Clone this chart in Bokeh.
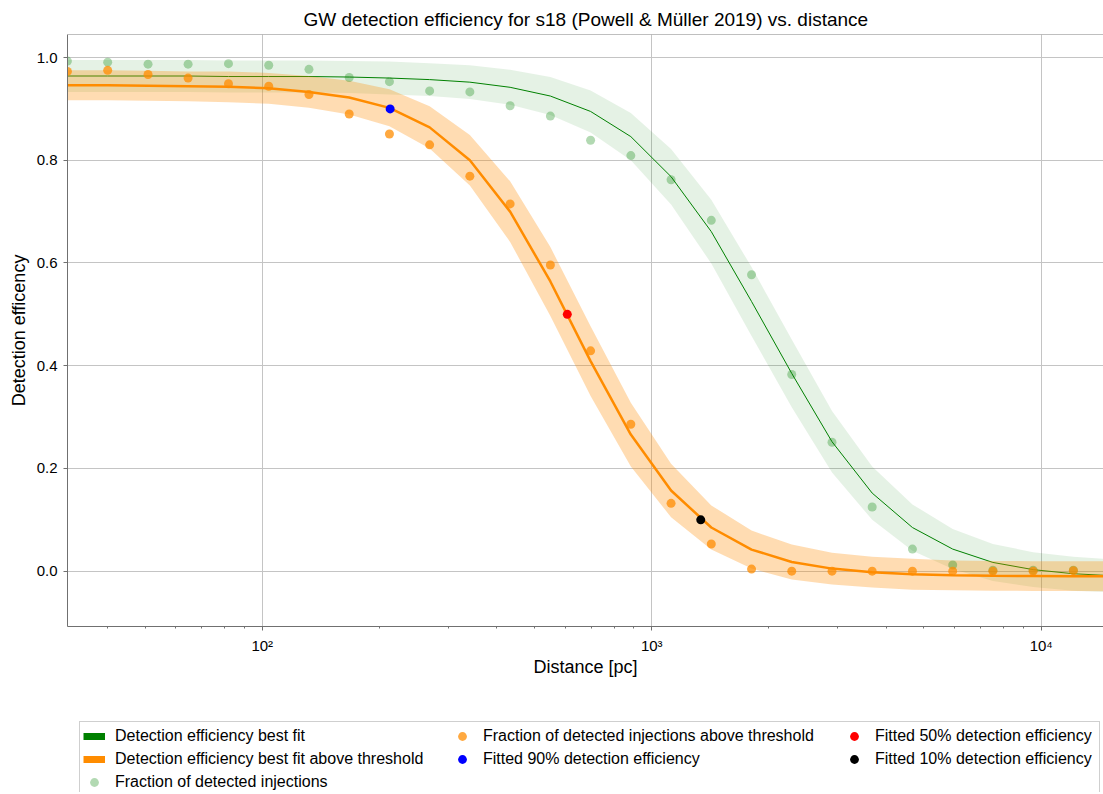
from bokeh.plotting import figure
from bokeh.layouts import column
from bokeh.models import (FixedTicker, Legend, LegendItem, Span, NumeralTickFormatter,
                          ColumnDataSource)
from bokeh.embed import file_html
from bokeh.resources import INLINE

# ---------------- data ----------------
distance = [31.6, 40.1, 50.9, 64.5, 81.9, 103.9, 131.8, 167.2, 212.1, 269.0,
            341.2, 432.9, 549.2, 696.6, 883.7, 1121, 1422, 1804, 2288, 2903,
            3681, 4670, 5925, 7515, 9533, 12093, 15340]

fit_all = [0.964, 0.964, 0.964, 0.964, 0.963, 0.963, 0.963, 0.962, 0.960, 0.957,
           0.952, 0.942, 0.925, 0.895, 0.846, 0.768, 0.661, 0.525, 0.385, 0.252,
           0.152, 0.085, 0.043, 0.017, 0.003, -0.005, -0.009]
err_all = [0.031, 0.031, 0.031, 0.031, 0.031, 0.031, 0.031, 0.031, 0.032, 0.032,
           0.033, 0.034, 0.037, 0.041, 0.046, 0.054, 0.062, 0.067, 0.066, 0.060,
           0.052, 0.045, 0.039, 0.036, 0.034, 0.033, 0.032]

fit_thr = [0.946, 0.946, 0.945, 0.944, 0.943, 0.940, 0.933, 0.922, 0.902, 0.864,
           0.800, 0.700, 0.564, 0.409, 0.266, 0.157, 0.085, 0.042, 0.018, 0.005,
           -0.002, -0.006, -0.008, -0.009, -0.0095, -0.0098, -0.0099]
err_thr = [0.029, 0.029, 0.029, 0.029, 0.030, 0.030, 0.031, 0.033, 0.036, 0.041,
           0.049, 0.059, 0.067, 0.068, 0.062, 0.052, 0.043, 0.037, 0.034, 0.031,
           0.030, 0.030, 0.029, 0.029, 0.029, 0.029, 0.029]

frac_all = [0.993, 0.991, 0.987, 0.987, 0.988, 0.985, 0.977, 0.961, 0.953, 0.935,
            0.933, 0.906, 0.886, 0.839, 0.809, 0.762, 0.683, 0.577, 0.383, 0.251,
            0.125, 0.043, 0.012, 0.002, 0.002, 0.002]
frac_thr = [0.973, 0.975, 0.967, 0.960, 0.949, 0.944, 0.928, 0.890, 0.851, 0.830,
            0.769, 0.715, 0.596, 0.429, 0.286, 0.132, 0.053, 0.004, 0.000, 0.000,
            0.000, 0.000, 0.000, 0.000, 0.000, 0.001]

eff90 = (213.0, 0.9)
eff50 = (607.0, 0.5)
eff10 = (1336.0, 0.1)

y_ticks = [0.0, 0.2, 0.4, 0.6, 0.8, 1.0]
x_ticks = [100, 1000, 10000]
x_tick_labels = {100: "10\u00b2", 1000: "10\u00b3", 10000: "10\u2074"}

# ---------------- main figure ----------------
FONT = "Liberation Sans"
W = 1103
p = figure(width=W, height=700, x_axis_type="log",
           x_range=(31.62, 14450), y_range=(-0.1077, 1.0448),
           output_backend="svg", toolbar_location=None,
           min_border_left=67, min_border_right=0, min_border_top=34,
           min_border_bottom=74)

p.title.text = "GW detection efficiency for s18 (Powell & M\u00fcller 2019) vs. distance"
p.title.text_font = FONT
p.title.text_font_size = "19px"
p.title.text_font_style = "normal"
p.title.align = "left"
p.title.offset = 236
p.title.text_color = "black"

p.outline_line_color = None
p.background_fill_color = "white"

n_pts = len(frac_all)
src = ColumnDataSource(dict(
    x=distance,
    fa=fit_all, fa_lo=[f - e for f, e in zip(fit_all, err_all)],
    fa_hi=[f + e for f, e in zip(fit_all, err_all)],
    ft=fit_thr, ft_lo=[f - e for f, e in zip(fit_thr, err_thr)],
    ft_hi=[f + e for f, e in zip(fit_thr, err_thr)],
))
pts = ColumnDataSource(dict(x=distance[:n_pts], fa=frac_all, ft=frac_thr))

p.varea(x="x", y1="fa_lo", y2="fa_hi", source=src, fill_color="green", fill_alpha=0.1)
p.line(x="x", y="fa", source=src, line_color="green", line_width=1)
p.varea(x="x", y1="ft_lo", y2="ft_hi", source=src, fill_color="darkorange", fill_alpha=0.3)
p.line(x="x", y="ft", source=src, line_color="darkorange", line_width=2.5)

PT_ALL = dict(size=9, fill_color="green", fill_alpha=0.3, line_color=None)
PT_THR = dict(size=9, fill_color="darkorange", fill_alpha=0.75, line_color=None)
PT90 = dict(size=9, fill_color="blue", line_color=None)
PT50 = dict(size=9, fill_color="red", line_color=None)
PT10 = dict(size=9, fill_color="black", line_color=None)

p.scatter(x="x", y="fa", source=pts, **PT_ALL)
p.scatter(x="x", y="ft", source=pts, **PT_THR)
p.scatter(x=[eff90[0]], y=[eff90[1]], **PT90)
p.scatter(x=[eff50[0]], y=[eff50[1]], **PT50)
p.scatter(x=[eff10[0]], y=[eff10[1]], **PT10)

# top spine
p.add_layout(Span(location=1.0448, dimension="width", line_color="#808080", line_width=1))

# ---------------- axes ----------------
minor = [40, 50, 60, 70, 80, 90, 200, 300, 400, 500, 600, 700, 800, 900,
         2000, 3000, 4000, 5000, 6000, 7000, 8000, 9000]
p.xaxis.ticker = FixedTicker(ticks=x_ticks, minor_ticks=minor)
p.xaxis.major_label_overrides = x_tick_labels
p.yaxis.ticker = FixedTicker(ticks=y_ticks)
p.yaxis.formatter = NumeralTickFormatter(format="0.0")

for ax in (p.xaxis[0], p.yaxis[0]):
    ax.axis_line_color = "#707070"
    ax.major_tick_line_color = "#707070"
    ax.minor_tick_line_color = "#707070"
    ax.major_tick_in = 0
    ax.major_tick_out = 4
    ax.minor_tick_in = 0
    ax.minor_tick_out = 2
    ax.major_label_text_font = FONT
    ax.major_label_text_font_size = "15px"
    ax.major_label_text_color = "black"
    ax.axis_label_text_font = FONT
    ax.axis_label_text_font_size = "18px"
    ax.axis_label_text_font_style = "normal"
    ax.axis_label_text_color = "black"

p.xaxis.axis_label = "Distance [pc]"
p.yaxis.axis_label = "Detection efficency"
p.xaxis.major_label_standoff = 6
p.xaxis.axis_label_standoff = 0
p.yaxis.major_label_standoff = 6
p.yaxis.axis_label_standoff = 5

p.xgrid.ticker = FixedTicker(ticks=x_ticks)
p.ygrid.ticker = FixedTicker(ticks=y_ticks)
for g in (p.xgrid[0], p.ygrid[0]):
    g.grid_line_color = "#c4c4c4"
    g.grid_line_width = 1

# ---------------- legend strip (separate canvas under the plot) ----------------
LH = 92
q = figure(width=W, height=LH, x_range=(0, 1), y_range=(0, 1),
           output_backend="svg", toolbar_location=None,
           x_axis_location=None, y_axis_location=None,
           min_border=0, min_border_left=0, min_border_right=0,
           min_border_top=0, min_border_bottom=0)
q.outline_line_color = None
q.xgrid.visible = False
q.ygrid.visible = False

# legend-only renderers: their points lie outside the strip's ranges
off_x, off_y = [5, 6], [5, 5]
lg_fit = q.line(x=off_x, y=off_y, line_color="green", line_width=7)
lg_thr = q.line(x=off_x, y=off_y, line_color="darkorange", line_width=7)
lg_pa = q.scatter(x=off_x, y=off_y, **PT_ALL)
lg_pt = q.scatter(x=off_x, y=off_y, **PT_THR)
lg_90 = q.scatter(x=off_x, y=off_y, **PT90)
lg_50 = q.scatter(x=off_x, y=off_y, **PT50)
lg_10 = q.scatter(x=off_x, y=off_y, **PT10)


def make_legend(items, loc, boxed):
    lg = Legend(items=items, location=loc, orientation="vertical",
                glyph_width=22, glyph_height=22, label_height=20,
                label_standoff=10, spacing=1, padding=3, margin=0,
                label_text_font=FONT, label_text_font_size="16px",
                label_text_color="black")
    if boxed:
        lg.border_line_color = "#a0a0a0"
        lg.border_line_width = 1
        lg.background_fill_color = "white"
        lg.background_fill_alpha = 1.0
        lg.label_width = 981
    else:
        lg.border_line_color = None
        lg.background_fill_alpha = 0.0
    return lg


leg1 = make_legend([
    LegendItem(label="Detection efficiency best fit", renderers=[lg_fit]),
    LegendItem(label="Detection efficiency best fit above threshold", renderers=[lg_thr]),
    LegendItem(label="Fraction of detected injections", renderers=[lg_pa]),
], (12, -5), True)
leg2 = make_legend([
    LegendItem(label="Fraction of detected injections above threshold", renderers=[lg_pt]),
    LegendItem(label="Fitted 90% detection efficiency", renderers=[lg_90]),
], (384, 22), False)
leg3 = make_legend([
    LegendItem(label="Fitted 50% detection efficiency", renderers=[lg_50]),
    LegendItem(label="Fitted 10% detection efficiency", renderers=[lg_10]),
], (776, 22), False)
q.add_layout(leg1)
q.add_layout(leg2)
q.add_layout(leg3)

layout = column(p, q, spacing=0)
open("out.html", "w").write(file_html(layout, INLINE))
